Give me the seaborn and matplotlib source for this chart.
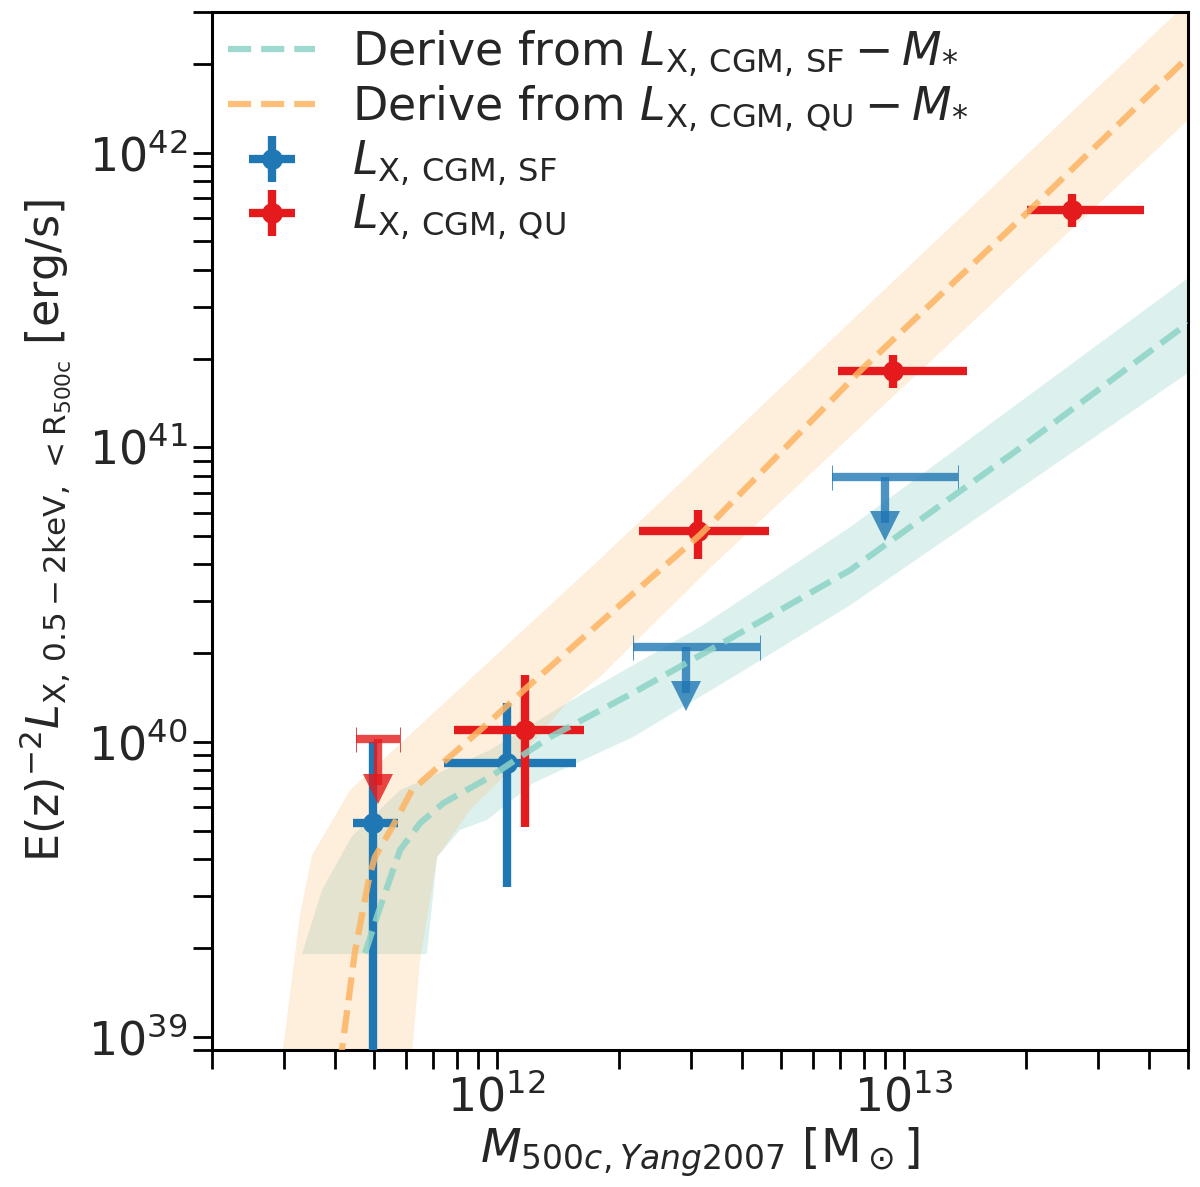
import numpy as np
import pandas as pd
import matplotlib
matplotlib.use("Agg")
import matplotlib.pyplot as plt
import seaborn as sns
from matplotlib.lines import Line2D

# ---- data ----
# star-forming detections
sf_m = [4.98e11, 1.06e12]
sf_m_lo = [4.44e11, 7.43e11]
sf_m_hi = [5.73e11, 1.57e12]
sf_l = [5.3e39, 8.47e39]
sf_l_lo = [1e38, 3.21e39]
sf_l_hi = [1.0e40, 1.36e40]

# star-forming upper limits
sf_ul_m = [2.92e12, 9.02e12]
sf_ul_m_lo = [2.16e12, 6.67e12]
sf_ul_m_hi = [4.44e12, 1.36e13]
sf_ul_l = [2.10e40, 7.93e40]

# quiescent detections
qu_m = [1.175e12, 3.13e12, 9.42e12, 2.59e13]
qu_m_lo = [7.87e11, 2.24e12, 6.9e12, 2.01e13]
qu_m_hi = [1.64e12, 4.68e12, 1.43e13, 3.90e13]
qu_l = [1.10e40, 5.20e40, 1.82e41, 6.38e41]
qu_l_lo = [5.14e39, 4.18e40, 1.59e41, 5.58e41]
qu_l_hi = [1.69e40, 6.12e40, 2.06e41, 7.23e41]

# quiescent upper limit
qu_ul_m = [5.12e11]
qu_ul_m_lo = [4.52e11]
qu_ul_m_hi = [5.79e11]
qu_ul_l = [1.02e40]

# model curves (log10 M, log10 L)
sf_mod_lm = [11.677, 11.714, 11.763, 11.812, 11.869, 11.984, 12.131, 12.335, 12.581, 12.869, 13.279, 13.699]
sf_mod_ll = [39.283, 39.439, 39.633, 39.724, 39.792, 39.881, 40.016, 40.166, 40.356, 40.583, 40.990, 41.421]
qu_mod_lm = [11.615, 11.652, 11.687, 11.701, 11.748, 11.792, 11.873, 11.982, 12.070, 12.203, 12.365, 12.502, 12.898, 13.303, 13.699]
qu_mod_ll = [38.90, 39.287, 39.538, 39.609, 39.721, 39.836, 39.935, 40.067, 40.179, 40.342, 40.539, 40.705, 41.265, 41.795, 42.324]

# band edges (log10 M, log10 L)
sf_up_lm = [11.522, 11.571, 11.645, 11.763, 11.984, 12.173, 12.500, 12.869, 13.699]
sf_up_ll = [39.280, 39.497, 39.680, 39.836, 39.972, 40.132, 40.390, 40.729, 41.574]
sf_lo_lm = [11.829, 11.854, 11.910, 11.977, 12.090, 12.335, 12.581, 12.869, 13.699]
sf_lo_ll = [39.280, 39.609, 39.701, 39.735, 39.860, 40.016, 40.220, 40.464, 41.252]
qu_up_lm = [11.470, 11.517, 11.547, 11.640, 12.254, 13.699]
qu_up_ll = [38.90, 39.412, 39.616, 39.836, 40.620, 42.511]
qu_lo_lm = [11.790, 11.812, 11.854, 11.935, 12.009, 12.173, 12.254, 12.530, 13.699]
qu_lo_ll = [38.90, 39.259, 39.609, 39.769, 39.870, 40.132, 40.220, 40.597, 42.110]

lab_sf_mod = r"Derive from $L_{\rm X,\,CGM,\,SF}-M_{*}$"
lab_qu_mod = r"Derive from $L_{\rm X,\,CGM,\,QU}-M_{*}$"
lab_sf = r"$L_{\rm X,\,CGM,\,SF}$"
lab_qu = r"$L_{\rm X,\,CGM,\,QU}$"

c_sf_mod = "#8dd3c7"
c_qu_mod = "#fdb462"
c_sf = "#1f77b4"
c_qu = "#e41a1c"

sns.set_style("ticks")
plt.rcParams["font.family"] = ["DejaVu Sans"]
plt.rcParams["mathtext.fontset"] = "dejavusans"

fig = plt.figure(figsize=(12, 11.87), dpi=100)
ax = fig.add_axes([0.1767, 0.1154, 0.8133, 0.8745])
ax.set_xscale("log")
ax.set_yscale("log")


def band(ax, up_lm, up_ll, lo_lm, lo_ll, color, alpha):
    xs = list(10 ** np.array(up_lm)) + list(10 ** np.array(lo_lm))[::-1]
    ys = list(10 ** np.array(up_ll)) + list(10 ** np.array(lo_ll))[::-1]
    ax.fill(xs, ys, color=color, alpha=alpha, lw=0, zorder=1)


band(ax, sf_up_lm, sf_up_ll, sf_lo_lm, sf_lo_ll, c_sf_mod, 0.3)
band(ax, qu_up_lm, qu_up_ll, qu_lo_lm, qu_lo_ll, c_qu_mod, 0.22)

mod = pd.concat([
    pd.DataFrame({"M": 10 ** np.array(sf_mod_lm), "L": 10 ** np.array(sf_mod_ll), "kind": lab_sf_mod}),
    pd.DataFrame({"M": 10 ** np.array(qu_mod_lm), "L": 10 ** np.array(qu_mod_ll), "kind": lab_qu_mod}),
])
sns.lineplot(data=mod, x="M", y="L", hue="kind", palette=[c_sf_mod, c_qu_mod],
             estimator=None, sort=False, ax=ax, lw=4.5, alpha=0.85, zorder=5,
             legend=False)
for line in ax.lines:
    line.set_linestyle("--")


def asym(v, lo, hi):
    v = np.array(v)
    return [v - np.array(lo), np.array(hi) - v]


def upper_limit(ax, m, m_lo, m_hi, l, color, z):
    l = np.array(l)
    ax.errorbar(m, l, xerr=asym(m, m_lo, m_hi), fmt="none", ecolor=color,
                elinewidth=6, capsize=9, capthick=0.7, alpha=0.8, zorder=z)
    ax.errorbar(m, l, yerr=[0.3 * l, 0 * l], fmt="none", ecolor=color,
                elinewidth=6, capsize=0, alpha=0.8, zorder=z)
    ax.plot(m, 0.68 * l, marker="v", ms=21, ls="none", color=color, mew=0,
            alpha=0.8, zorder=z)


# star-forming
ax.errorbar(sf_m, sf_l, xerr=asym(sf_m, sf_m_lo, sf_m_hi), yerr=asym(sf_l, sf_l_lo, sf_l_hi),
            fmt="o", ms=14, color=c_sf, elinewidth=6, capsize=0, zorder=3)
upper_limit(ax, sf_ul_m, sf_ul_m_lo, sf_ul_m_hi, sf_ul_l, c_sf, 3)
# quiescent
ax.errorbar(qu_m, qu_l, xerr=asym(qu_m, qu_m_lo, qu_m_hi), yerr=asym(qu_l, qu_l_lo, qu_l_hi),
            fmt="o", ms=14, color=c_qu, elinewidth=6, capsize=0, zorder=3.2)
upper_limit(ax, qu_ul_m, qu_ul_m_lo, qu_ul_m_hi, qu_ul_l, c_qu, 3.4)

ax.set_xlim(2e11, 5e13)
ax.set_ylim(9e38, 3e42)

for s in ax.spines.values():
    s.set_linewidth(2.2)
    s.set_color("black")
ax.tick_params(which="both", direction="out", length=14, width=2, labelsize=33,
               top=False, right=False, color="black")

ax.set_xlabel(r"$M_{500c,Yang2007}$ [M$_\odot$]", fontsize=34, labelpad=4)
ax.set_ylabel(r"E(z)$^{-2}L_{\rm X,\,0.5-2keV,\,<R_{500c}}$ [erg/s]", fontsize=32, labelpad=10)

# legend
h_sf_mod = Line2D([], [], color=c_sf_mod, ls="--", lw=4.5, alpha=0.85)
h_qu_mod = Line2D([], [], color=c_qu_mod, ls="--", lw=4.5, alpha=0.85)
h_sf = ax.errorbar([], [], xerr=[], yerr=[], fmt="o", ms=14, color=c_sf, elinewidth=6)
h_qu = ax.errorbar([], [], xerr=[], yerr=[], fmt="o", ms=14, color=c_qu, elinewidth=6)
ax.legend([h_sf_mod, h_qu_mod, h_sf, h_qu], [lab_sf_mod, lab_qu_mod, lab_sf, lab_qu],
          loc="upper left", frameon=False, fontsize=33, handlelength=1.9,
          borderaxespad=0.05, borderpad=0.3, labelspacing=0.1, handletextpad=0.8)

fig.savefig("out.png", dpi=100)
